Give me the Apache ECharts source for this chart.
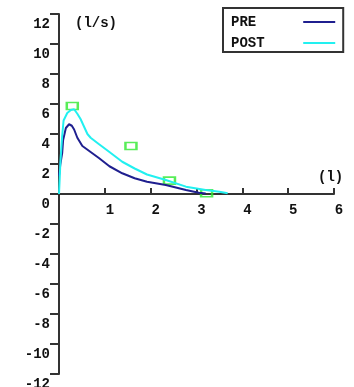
<!DOCTYPE html>
<html>
<head>
<meta charset="utf-8">
<script src="https://cdn.jsdelivr.net/npm/echarts@6/dist/echarts.min.js"></script>
<style>
  html, body { margin: 0; padding: 0; background: #fff; }
  #main { width: 354px; height: 387px; }
</style>
</head>
<body>
<div id="main"></div>
<script>
// volume (l) / flow (l/s)
var preVolume = [0, 0.03, 0.07, 0.09, 0.15, 0.22, 0.28, 0.33, 0.4, 0.51, 0.66, 0.87, 1.1, 1.38, 1.65, 1.92, 2.33, 2.77, 3.05, 3.2];
var preFlow   = [1.2, 2.0, 2.75, 3.6, 4.4, 4.65, 4.55, 4.3, 3.75, 3.2, 2.87, 2.4, 1.85, 1.38, 1.05, 0.82, 0.6, 0.27, 0.09, 0.03];

var postVolume = [0, 0.03, 0.07, 0.1, 0.18, 0.26, 0.33, 0.4, 0.47, 0.62, 0.69, 0.86, 1.1, 1.38, 1.65, 1.92, 2.33, 2.77, 3.2, 3.5, 3.68];
var postFlow   = [0, 2.1, 3.9, 4.9, 5.4, 5.6, 5.65, 5.35, 5.0, 4.0, 3.75, 3.35, 2.8, 2.15, 1.7, 1.3, 0.93, 0.49, 0.27, 0.15, 0.05];

var predVolume = [0.29, 1.57, 2.41, 3.22];
var predFlow   = [5.87, 3.2, 0.89, 0.05];

var xTicks = [0, 1, 2, 3, 4, 5, 6];
var yTicks = [-12, -10, -8, -6, -4, -2, 0, 2, 4, 6, 8, 10, 12];

function pairs(xs, ys) {
  var out = [];
  for (var i = 0; i < xs.length; i++) out.push([xs[i], ys[i]]);
  return out;
}

var font = 'Liberation Mono';
var myChart = echarts.init(document.getElementById('main'));

// grid is 360px high for -12..12, so y=0 sits 180px above the bottom edge
var option = {
  animation: false,
  backgroundColor: '#fff',
  grid: { left: 59, right: 20, top: 14, bottom: 13, outerBoundsMode: 'none' },
  legend: {
    data: ['PRE', 'POST'],
    orient: 'vertical',
    align: 'right',
    left: 223,
    top: 8,
    padding: [7, 8, 2, 8],
    icon: 'rect',
    itemWidth: 32,
    itemHeight: 2,
    itemGap: 7,
    borderColor: '#333',
    borderWidth: 2,
    borderRadius: 0,
    formatter: function (name) {
      while (name.length < 8) name += ' ';
      return name;
    },
    textStyle: { fontFamily: font, fontWeight: 'bold', fontSize: 14, color: '#111', lineHeight: 14 }
  },
  xAxis: {
    type: 'value',
    min: xTicks[0],
    max: xTicks[xTicks.length - 1],
    interval: 1,
    offset: -180,
    splitLine: { show: false },
    axisLine: { onZero: false, lineStyle: { color: '#333', width: 2 } },
    axisTick: { inside: true, length: 6, lineStyle: { color: '#333', width: 2 } },
    axisLabel: {
      showMinLabel: false,
      margin: 9,
      padding: [0, 0, 0, 10],
      fontFamily: font, fontWeight: 'bold', fontSize: 14, color: '#111'
    }
  },
  yAxis: {
    type: 'value',
    min: yTicks[0],
    max: yTicks[yTicks.length - 1],
    interval: 2,
    splitLine: { show: false },
    axisLine: { onZero: false, lineStyle: { color: '#333', width: 2 } },
    axisTick: { length: 9, lineStyle: { color: '#333', width: 2 } },
    axisLabel: {
      margin: 9,
      verticalAlign: 'top',
      padding: [3, 0, 0, 0],
      fontFamily: font, fontWeight: 'bold', fontSize: 14, color: '#111'
    }
  },
  graphic: [
    { type: 'text', left: 75, top: 16, style: { text: '(l/s)', font: 'bold 14px "Liberation Mono"', fill: '#111' } },
    { type: 'text', left: 318, top: 170, style: { text: '(l)', font: 'bold 14px "Liberation Mono"', fill: '#111' } }
  ],
  series: [{
    name: 'PRE',
    type: 'line',
    symbol: 'none',
    color: '#1f1f8f',
    lineStyle: { width: 2, color: '#1f1f8f' },
    data: pairs(preVolume, preFlow)
  }, {
    name: 'POST',
    type: 'line',
    symbol: 'none',
    color: '#22f0f0',
    lineStyle: { width: 2, color: '#22f0f0' },
    data: pairs(postVolume, postFlow)
  }, {
    name: 'predicted',
    type: 'scatter',
    symbol: 'rect',
    symbolSize: [11, 7],
    itemStyle: { color: 'transparent', borderColor: '#2ee82e', borderWidth: 2 },
    data: pairs(predVolume, predFlow)
  }]
};

myChart.setOption(option);
</script>
</body>
</html>
